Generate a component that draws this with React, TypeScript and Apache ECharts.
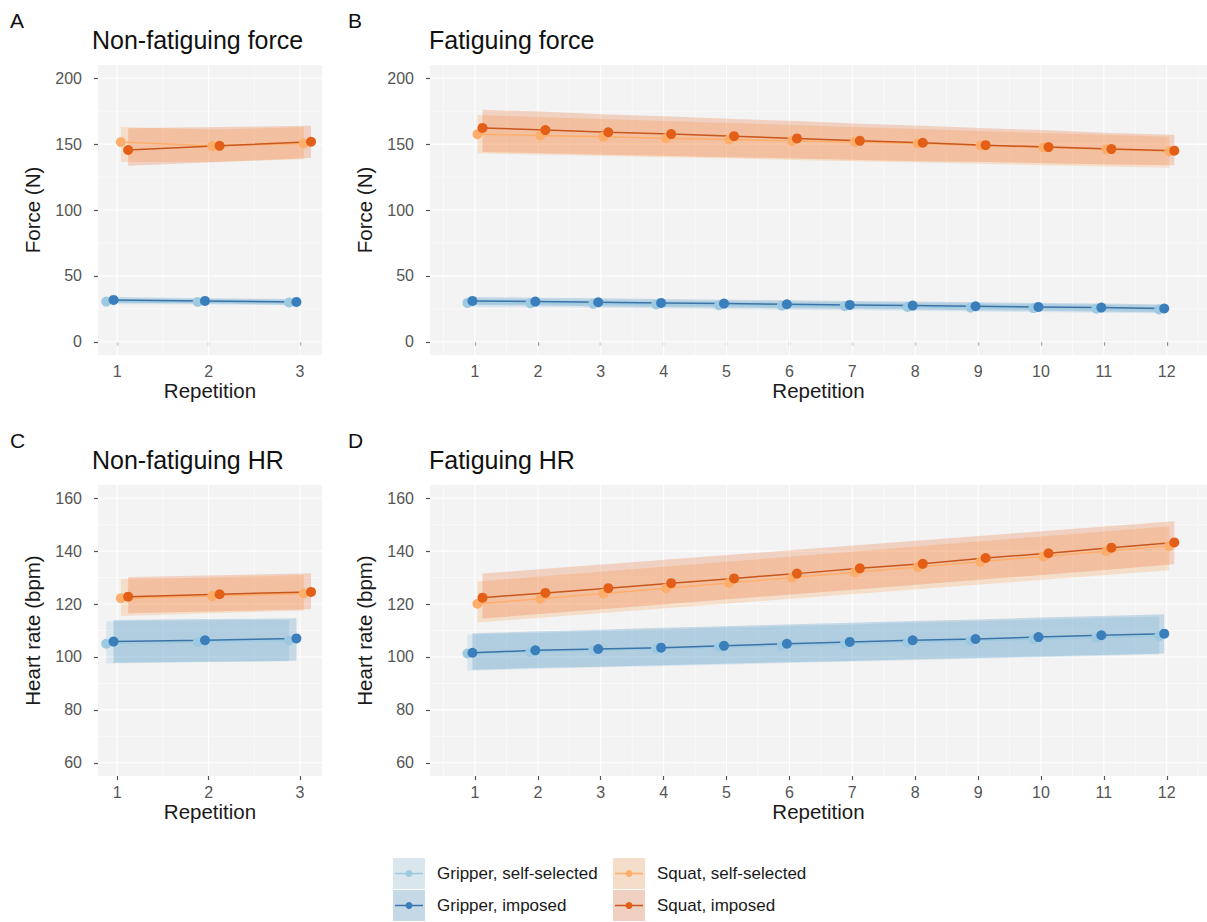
import React, { useEffect, useRef } from "react";
import * as echarts from "echarts";

const FONT = "'Liberation Sans', Arial, Helvetica, sans-serif";
const BG = "#f3f3f3";

// ---------- categories / legend ----------
const seriesNames = ["Gripper, self-selected", "Gripper, imposed", "Squat, self-selected", "Squat, imposed"];
const dodge = [-0.12, -0.04, 0.04, 0.12];
const pointColors = ["#9ecae1", "#3a7fbb", "#fdae6b", "#e35f17"];
const lineColors = ["#9ecae1", "#3a74a8", "#fdae6b", "#c9561c"];
const ribbonColors = [
  "rgba(158,202,225,0.30)",
  "rgba(49,130,189,0.24)",
  "rgba(253,174,107,0.30)",
  "rgba(230,85,13,0.22)",
];

const reps3 = [1, 2, 3];
const reps12 = [1, 2, 3, 4, 5, 6, 7, 8, 9, 10, 11, 12];

// ---------- tick labels ----------
const forceTicks = [0, 50, 100, 150, 200];
const forceMinor = [25, 75, 125, 175];
const hrTicks = [60, 80, 100, 120, 140, 160];
const hrMinor = [70, 90, 110, 130, 150];

// ---------- A: Non-fatiguing force ----------
const aGripSelf = [30.5, 30.2, 29.8];
const aGripSelfLo = [28.5, 28.3, 27.8];
const aGripSelfHi = [32.5, 32.1, 31.8];
const aGripImp = [31.8, 31.0, 30.3];
const aGripImpLo = [29.5, 29.0, 28.2];
const aGripImpHi = [34.0, 33.1, 32.4];
const aSquatSelf = [151.5, 148.5, 150.5];
const aSquatSelfLo = [136.5, 136.5, 138.5];
const aSquatSelfHi = [163.0, 161.0, 163.0];
const aSquatImp = [145.5, 148.7, 151.8];
const aSquatImpLo = [133.5, 136.5, 139.5];
const aSquatImpHi = [162.0, 163.0, 164.0];

// ---------- B: Fatiguing force ----------
const bGripSelf = [29.5, 29.2, 28.8, 28.3, 27.8, 27.4, 27.0, 26.5, 26.0, 25.6, 25.1, 24.6];
const bGripSelfLo = [26.5, 26.2, 25.8, 25.3, 24.8, 24.4, 24.0, 23.5, 23.0, 22.6, 22.1, 21.6];
const bGripSelfHi = [32.5, 32.2, 31.8, 31.3, 30.8, 30.4, 30.0, 29.5, 29.0, 28.6, 28.1, 27.6];
const bGripImp = [31.0, 30.5, 30.0, 29.5, 29.0, 28.5, 28.0, 27.5, 27.0, 26.5, 26.0, 25.3];
const bGripImpLo = [28.0, 27.5, 27.0, 26.5, 26.0, 25.5, 25.0, 24.5, 24.0, 23.5, 23.0, 22.3];
const bGripImpHi = [34.0, 33.5, 33.0, 32.5, 32.0, 31.5, 31.0, 30.5, 30.0, 29.5, 29.0, 28.3];
const bSquatSelf = [157.5, 156.5, 155.5, 154.5, 153.5, 152.5, 151.5, 150.5, 149.0, 147.5, 146.0, 144.5];
const bSquatSelfLo = [143.0, 142.0, 141.0, 140.0, 139.0, 138.0, 137.0, 136.0, 135.0, 134.0, 133.0, 132.0];
const bSquatSelfHi = [172.0, 170.5, 169.0, 167.5, 166.0, 164.5, 163.0, 161.5, 160.0, 158.5, 157.0, 155.5];
const bSquatImp = [162.3, 160.6, 159.0, 157.6, 156.0, 154.3, 152.5, 151.0, 149.2, 147.7, 146.2, 145.0];
const bSquatImpLo = [144.0, 143.0, 142.0, 141.0, 140.0, 139.0, 138.0, 137.0, 136.5, 135.5, 134.5, 134.0];
const bSquatImpHi = [176.0, 174.5, 172.5, 171.0, 169.0, 167.5, 165.5, 164.0, 162.0, 160.5, 158.5, 157.0];

// ---------- C: Non-fatiguing HR ----------
const cGripSelf = [105.0, 105.6, 106.2];
const cGripSelfLo = [97.5, 98.0, 98.3];
const cGripSelfHi = [113.5, 113.8, 114.0];
const cGripImp = [105.8, 106.3, 107.0];
const cGripImpLo = [97.8, 98.2, 98.6];
const cGripImpHi = [114.0, 114.3, 114.6];
const cSquatSelf = [122.2, 123.0, 124.0];
const cSquatSelfLo = [115.5, 116.5, 117.5];
const cSquatSelfHi = [129.5, 130.0, 131.0];
const cSquatImp = [122.8, 123.7, 124.6];
const cSquatImpLo = [116.5, 117.3, 118.0];
const cSquatImpHi = [130.2, 130.9, 131.6];

// ---------- D: Fatiguing HR ----------
const dGripSelf = [101.3, 101.9, 102.5, 103.1, 103.7, 104.3, 104.9, 105.5, 106.1, 106.7, 107.3, 107.9];
const dGripSelfLo = [94.8, 95.4, 96.0, 96.5, 97.1, 97.6, 98.2, 98.7, 99.3, 99.8, 100.4, 100.9];
const dGripSelfHi = [108.5, 109.1, 109.7, 110.4, 111.0, 111.6, 112.2, 112.9, 113.5, 114.1, 114.7, 115.3];
const dGripImp = [101.6, 102.5, 103.0, 103.5, 104.2, 105.0, 105.7, 106.3, 106.8, 107.5, 108.2, 108.8];
const dGripImpLo = [95.2, 95.8, 96.3, 96.9, 97.4, 98.0, 98.5, 99.1, 99.6, 100.2, 100.7, 101.3];
const dGripImpHi = [109.0, 109.6, 110.3, 111.0, 111.6, 112.3, 112.9, 113.6, 114.2, 114.9, 115.5, 116.1];
const dSquatSelf = [120.1, 122.0, 124.0, 126.0, 128.0, 130.0, 132.0, 134.0, 136.0, 138.0, 140.0, 142.0];
const dSquatSelfLo = [113.0, 114.8, 116.6, 118.4, 120.2, 122.0, 123.8, 125.6, 127.4, 129.2, 131.0, 132.8];
const dSquatSelfHi = [128.5, 130.4, 132.3, 134.2, 136.1, 138.0, 139.9, 141.8, 143.7, 145.6, 147.5, 149.4];
const dSquatImp = [122.4, 124.2, 126.0, 127.9, 129.7, 131.5, 133.5, 135.2, 137.4, 139.2, 141.3, 143.3];
const dSquatImpLo = [114.5, 116.4, 118.2, 120.1, 122.0, 123.8, 125.6, 127.5, 129.4, 131.2, 133.1, 135.0];
const dSquatImpHi = [131.5, 133.3, 135.1, 136.9, 138.7, 140.5, 142.3, 144.1, 145.9, 147.7, 149.5, 151.3];

type Panel = {
  letter: string;
  title: string;
  left: number;
  top: number;
  width: number;
  height: number;
  xMin: number;
  xMax: number;
  yMin: number;
  yMax: number;
  yName: string;
  reps: number[];
  xMinor: number[];
  yTicks: number[];
  yMinor: number[];
  vals: number[][];
  lo: number[][];
  hi: number[][];
};

const panels: Panel[] = [
  {
    letter: "A", title: "Non-fatiguing force", left: 98, top: 65, width: 224, height: 290,
    xMin: 0.79, xMax: 3.24, yMin: -10, yMax: 210, yName: "Force (N)", reps: reps3,
    xMinor: [1.5, 2.5], yTicks: forceTicks, yMinor: forceMinor,
    vals: [aGripSelf, aGripImp, aSquatSelf, aSquatImp],
    lo: [aGripSelfLo, aGripImpLo, aSquatSelfLo, aSquatImpLo],
    hi: [aGripSelfHi, aGripImpHi, aSquatSelfHi, aSquatImpHi],
  },
  {
    letter: "B", title: "Fatiguing force", left: 430, top: 65, width: 777, height: 290,
    xMin: 0.285, xMax: 12.64, yMin: -10, yMax: 210, yName: "Force (N)", reps: reps12,
    xMinor: [0.5, 1.5, 2.5, 3.5, 4.5, 5.5, 6.5, 7.5, 8.5, 9.5, 10.5, 11.5, 12.5], yTicks: forceTicks, yMinor: forceMinor,
    vals: [bGripSelf, bGripImp, bSquatSelf, bSquatImp],
    lo: [bGripSelfLo, bGripImpLo, bSquatSelfLo, bSquatImpLo],
    hi: [bGripSelfHi, bGripImpHi, bSquatSelfHi, bSquatImpHi],
  },
  {
    letter: "C", title: "Non-fatiguing HR", left: 98, top: 485, width: 224, height: 291,
    xMin: 0.79, xMax: 3.24, yMin: 55, yMax: 165, yName: "Heart rate (bpm)", reps: reps3,
    xMinor: [1.5, 2.5], yTicks: hrTicks, yMinor: hrMinor,
    vals: [cGripSelf, cGripImp, cSquatSelf, cSquatImp],
    lo: [cGripSelfLo, cGripImpLo, cSquatSelfLo, cSquatImpLo],
    hi: [cGripSelfHi, cGripImpHi, cSquatSelfHi, cSquatImpHi],
  },
  {
    letter: "D", title: "Fatiguing HR", left: 430, top: 485, width: 777, height: 291,
    xMin: 0.285, xMax: 12.64, yMin: 55, yMax: 165, yName: "Heart rate (bpm)", reps: reps12,
    xMinor: [0.5, 1.5, 2.5, 3.5, 4.5, 5.5, 6.5, 7.5, 8.5, 9.5, 10.5, 11.5, 12.5], yTicks: hrTicks, yMinor: hrMinor,
    vals: [dGripSelf, dGripImp, dSquatSelf, dSquatImp],
    lo: [dGripSelfLo, dGripImpLo, dSquatSelfLo, dSquatImpLo],
    hi: [dGripSelfHi, dGripImpHi, dSquatSelfHi, dSquatImpHi],
  },
];

function buildOption() {
  const grid: any[] = [];
  const xAxis: any[] = [];
  const yAxis: any[] = [];
  const series: any[] = [];
  const title: any[] = [];

  panels.forEach((p, i) => {
    grid.push({
      left: p.left, top: p.top, width: p.width, height: p.height,
      show: true, backgroundColor: BG, borderWidth: 0, containLabel: false,
    });
    xAxis.push({
      type: "value", gridIndex: i, min: p.xMin, max: p.xMax,
      name: "Repetition", nameLocation: "middle", nameGap: 25,
      nameTextStyle: { fontFamily: FONT, fontSize: 20.5, color: "#1a1a1a" },
      axisLine: { show: false },
      axisTick: { show: true, length: 4, customValues: p.reps, lineStyle: { color: "#555", width: 1.2 } },
      axisLabel: { customValues: p.reps, margin: 8, fontFamily: FONT, fontSize: 16, color: "#555" },
      splitLine: { show: false },
    });
    yAxis.push({
      type: "value", gridIndex: i, min: p.yMin, max: p.yMax,
      name: p.yName, nameLocation: "middle", nameGap: 55,
      nameTextStyle: { fontFamily: FONT, fontSize: 20.5, color: "#1a1a1a" },
      axisLine: { show: false },
      axisTick: { show: true, length: 4, customValues: p.yTicks, lineStyle: { color: "#555", width: 1.2 } },
      axisLabel: { customValues: p.yTicks, margin: 16, fontFamily: FONT, fontSize: 16, color: "#555" },
      splitLine: { show: false },
    });

    // grid lines (white), drawn through the axes' scales
    const gridData: number[][] = [];
    p.yMinor.forEach((v) => gridData.push([0, v, 0]));
    p.xMinor.forEach((v) => gridData.push([1, v, 0]));
    p.yTicks.forEach((v) => gridData.push([0, v, 1]));
    p.reps.forEach((v) => gridData.push([1, v, 1]));
    const xMin = p.xMin;
    const yMin = p.yMin;
    series.push({
      type: "custom", xAxisIndex: i, yAxisIndex: i, silent: true, z: 1,
      data: gridData,
      encode: { x: 1, y: 1 },
      renderItem: (params: any, api: any) => {
        const kind = api.value(0);
        const v = api.value(1);
        const major = api.value(2);
        const cs = params.coordSys;
        const lw = major ? 1.1 : 0.55;
        if (kind === 0) {
          const y = api.coord([xMin, v])[1];
          return { type: "line", shape: { x1: cs.x, y1: y, x2: cs.x + cs.width, y2: y }, style: { stroke: "#ffffff", lineWidth: lw } };
        }
        const x = api.coord([v, yMin])[0];
        return { type: "line", shape: { x1: x, y1: cs.y, x2: x, y2: cs.y + cs.height }, style: { stroke: "#ffffff", lineWidth: lw } };
      },
    });

    // ribbons
    for (let s = 0; s < 4; s++) {
      const xs = p.reps.map((r) => r + dodge[s]);
      const lo = p.lo[s];
      const hi = p.hi[s];
      series.push({
        type: "custom", xAxisIndex: i, yAxisIndex: i, silent: true, z: 2,
        name: seriesNames[s],
        data: xs.map((x, k) => [x, lo[k], hi[k]]),
        encode: { x: 0, y: [1, 2] },
        clip: true,
        renderItem: (params: any, api: any) => {
          if (params.dataIndex !== 0) return null;
          const pts: number[][] = [];
          for (let k = 0; k < xs.length; k++) pts.push(api.coord([xs[k], hi[k]]));
          for (let k = xs.length - 1; k >= 0; k--) pts.push(api.coord([xs[k], lo[k]]));
          return { type: "polygon", shape: { points: pts }, style: { fill: ribbonColors[s] } };
        },
      });
    }

    // lines + points
    for (let s = 0; s < 4; s++) {
      series.push({
        type: "line", xAxisIndex: i, yAxisIndex: i, silent: true, z: 3,
        name: seriesNames[s],
        data: p.reps.map((r, k) => [r + dodge[s], p.vals[s][k]]),
        symbol: "circle", symbolSize: 10, showSymbol: true,
        lineStyle: { color: lineColors[s], width: 1.5 },
        itemStyle: { color: pointColors[s] },
        emphasis: { disabled: true },
      });
    }

    title.push({
      text: p.letter, left: p.left < 200 ? 10 : 348, top: p.top - 55, padding: 0,
      textStyle: { fontFamily: FONT, fontSize: 21, fontWeight: "normal", color: "#111" },
    });
    title.push({
      text: p.title, left: p.left < 200 ? 92 : 429, top: p.top - 38, padding: 0,
      textStyle: { fontFamily: FONT, fontSize: 25, fontWeight: "normal", color: "#111" },
    });
  });

  // legend (ggplot style keys)
  const graphic: any[] = [];
  for (let s = 0; s < 4; s++) {
    const col = s < 2 ? 0 : 1;
    const row = s % 2;
    const kx = col === 0 ? 393 : 613;
    const ky = row === 0 ? 858 : 890;
    const cy = ky + 15.5;
    graphic.push({ type: "rect", shape: { x: kx, y: ky, width: 32, height: 31 }, style: { fill: BG } });
    graphic.push({ type: "rect", shape: { x: kx, y: ky, width: 32, height: 31 }, style: { fill: ribbonColors[s] } });
    graphic.push({ type: "line", shape: { x1: kx + 2, y1: cy, x2: kx + 30, y2: cy }, style: { stroke: lineColors[s], lineWidth: 1.5 } });
    graphic.push({ type: "circle", shape: { cx: kx + 16, cy, r: 3.5 }, style: { fill: pointColors[s] } });
    graphic.push({
      type: "text", x: kx + 44, y: cy,
      style: { text: seriesNames[s], fontFamily: FONT, fontSize: 17, fill: "#1a1a1a", textVerticalAlign: "middle", verticalAlign: "middle" },
    });
  }

  return {
    animation: false,
    backgroundColor: "#ffffff",
    textStyle: { fontFamily: FONT },
    title,
    grid,
    xAxis,
    yAxis,
    series,
    graphic,
  };
}

export default function App() {
  const ref = useRef<HTMLDivElement | null>(null);
  useEffect(() => {
    if (!ref.current) return;
    const chart = echarts.init(ref.current, undefined, { renderer: "svg" });
    chart.setOption(buildOption() as any);
    return () => chart.dispose();
  }, []);
  return (
    <div
      ref={ref}
      style={{ position: "absolute", left: 0, top: 0, width: 1207, height: 922, background: "#fff" }}
    />
  );
}
